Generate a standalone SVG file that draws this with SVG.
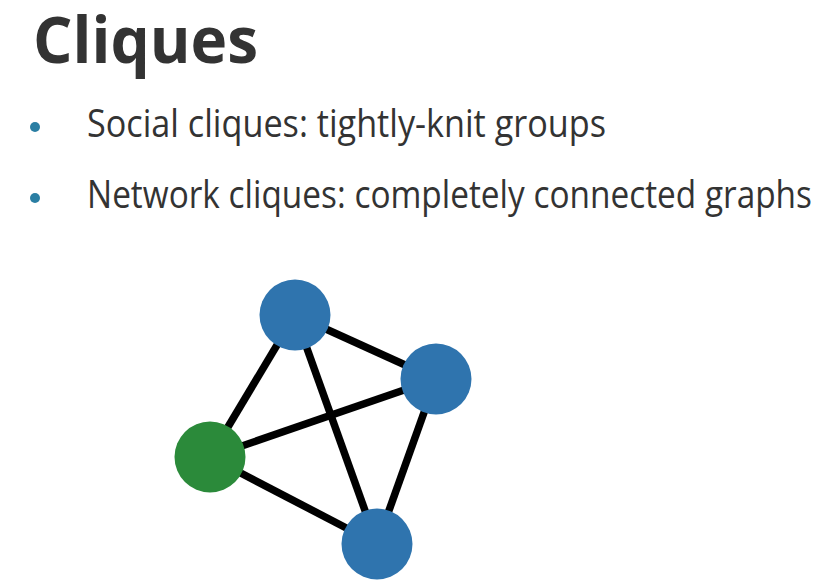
<svg xmlns="http://www.w3.org/2000/svg" width="830" height="586" viewBox="0 0 830 586">
<style>
.title{font-family:"Open Sans","Liberation Sans",sans-serif;font-weight:700;font-size:65px;fill:#333333}
.bt{font-family:"Open Sans","Liberation Sans",sans-serif;font-weight:400;font-size:37.5px;fill:#333333}
.dot{fill:#2a7ea3}
.edge{stroke:#000000;stroke-width:7.5;stroke-linecap:butt}
.blue{fill:#2f74ae}
.green{fill:#2b8a3a}
</style>
<rect width="830" height="586" fill="#ffffff"/>
<text class="title" x="33" y="63" textLength="225" lengthAdjust="spacingAndGlyphs">Cliques</text>
<circle class="dot" cx="35" cy="127" r="5"/>
<text class="bt" x="87" y="137" textLength="519" lengthAdjust="spacingAndGlyphs">Social cliques: tightly-knit groups</text>
<circle class="dot" cx="35" cy="198" r="5"/>
<text class="bt" x="87" y="208" textLength="725" lengthAdjust="spacingAndGlyphs">Network cliques: completely connected graphs</text>
<g id="connectors">
<line class="edge" x1="295" y1="315" x2="436" y2="379"/>
<line class="edge" x1="295" y1="315" x2="210" y2="457"/>
<line class="edge" x1="295" y1="315" x2="377" y2="544"/>
<line class="edge" x1="436" y1="379" x2="210" y2="457"/>
<line class="edge" x1="436" y1="379" x2="377" y2="544"/>
<line class="edge" x1="210" y1="457" x2="377" y2="544"/>
</g>
<g id="node-top"><circle class="blue" cx="295" cy="315" r="35.5"/></g>
<g id="node-right"><circle class="blue" cx="436" cy="379" r="35.5"/></g>
<g id="node-left"><circle class="green" cx="210" cy="457" r="35.5"/></g>
<g id="node-bottom"><circle class="blue" cx="377" cy="544" r="35.5"/></g>
</svg>
